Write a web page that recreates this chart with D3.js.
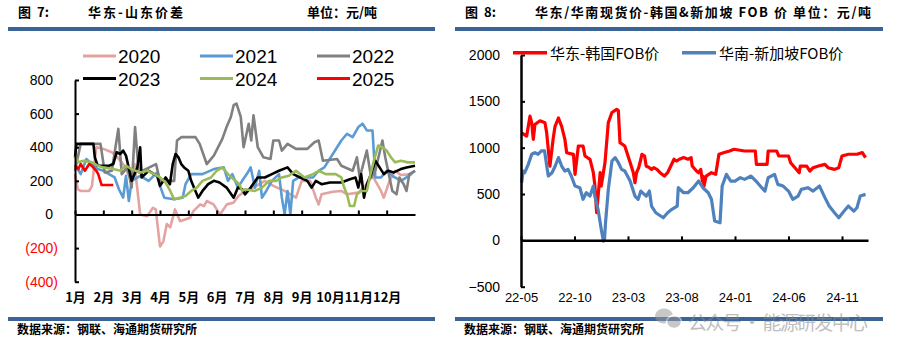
<!DOCTYPE html>
<html>
<head>
<meta charset="utf-8">
<script src="https://cdn.jsdelivr.net/npm/d3@7"></script>
<style>
    body { margin: 0; background: #fff; }
    svg text { font-family: "Liberation Sans", Arial, sans-serif; }
    .cn { font-family: "Noto Sans CJK SC", sans-serif; font-weight: bold; }
</style>
</head>
<body>
<svg id="chart" width="899" height="354"></svg>
<script>
// chart 7: east china - shandong spread, x is month position (1 = start of jan)
var years = ["2020", "2021", "2022", "2023", "2024", "2025"];
var yearColors = ["#e3a3a1", "#5b9bd5", "#808080", "#000000", "#9bbb59", "#ff0000"];
var monthLabels = ["1月","2月","3月","4月","5月","6月","7月","8月","9月","10月","11月","12月"];
var spreadTicks = [-400, -200, 0, 200, 400, 600, 800];

var spread2020 = [[1.0,240],[1.1,150],[1.2,140],[1.5,140],[1.6,170],[1.75,400],[2.0,390],[2.3,370],[2.5,340],[2.7,300],
    [2.95,220],[3.1,300],[3.2,150],[3.3,0],[3.55,-10],[3.75,40],[3.85,30],[4.0,-190],[4.12,-160],[4.24,-57],[4.36,-77],
    [4.53,30],[4.71,-40],[5.06,-20],[5.18,20],[5.42,60],[5.55,50],[5.65,80],[5.89,60],[6.0,30],[6.12,0],[6.36,60],
    [6.59,70],[6.77,110],[7.0,140],[7.3,160],[7.7,200],[8.0,170],[8.4,140],[8.8,100],[9.0,200],[9.3,200],[9.5,100],
    [9.6,60],[9.7,120],[10.1,135],[10.4,140],[10.6,120],[11.0,130],[11.3,180],[11.5,230],[11.8,140],[11.9,100],
    [12.1,200],[12.3,260],[12.5,235],[12.9,240]];
var spread2021 = [[1.0,300],[1.1,270],[1.2,240],[1.4,330],[1.6,300],[1.8,270],[2.0,260],[2.2,240],[2.4,220],[2.55,150],
    [2.7,100],[2.8,230],[2.9,80],[3.0,200],[3.3,230],[3.6,200],[3.9,250],[4.0,170],[4.15,100],[4.5,90],[4.8,100],
    [4.9,180],[5.1,240],[5.5,240],[5.9,270],[6.25,280],[6.4,200],[6.55,240],[6.75,160],[6.9,200],[7.1,250],[7.2,280],
    [7.35,160],[7.5,260],[7.6,100],[7.75,140],[7.95,200],[8.2,240],[8.3,100],[8.4,0],[8.5,140],[8.6,0],[8.7,200],
    [8.9,220],[9.4,220],[9.6,260],[9.8,280],[10.1,360],[10.4,440],[10.6,480],[10.8,460],[11.0,520],[11.15,540],
    [11.3,500],[11.5,500],[11.6,220],[11.8,220],[12.0,260],[12.2,230],[12.5,200],[12.7,220],[13.0,260]];
var spread2022 = [[1.0,260],[1.1,340],[1.2,420],[1.9,420],[2.05,250],[2.3,260],[2.53,510],[2.65,240],[2.85,280],[3.0,160],
    [3.12,520],[3.25,250],[3.5,270],[3.86,300],[4.0,200],[4.5,200],[4.6,440],[4.75,460],[5.25,460],[5.4,420],[5.65,300],
    [5.9,350],[6.2,450],[6.35,520],[6.5,580],[6.6,650],[6.7,660],[6.85,580],[6.95,400],[7.13,540],[7.22,440],[7.3,590],
    [7.45,400],[7.65,340],[7.9,330],[8.0,440],[8.2,440],[8.3,380],[8.5,420],[8.8,390],[9.2,390],[9.45,430],[9.6,440],
    [9.75,320],[10.25,330],[10.4,290],[10.8,260],[10.95,340],[11.05,220],[11.3,380],[11.45,220],[11.6,260],[11.85,440],
    [11.95,340],[12.2,140],[12.35,120],[12.45,220],[12.6,180],[12.7,140],[12.8,240],[13.0,260]];
var spread2023 = [[1.0,340],[1.05,420],[1.65,420],[1.7,340],[1.8,290],[2.2,290],[2.35,300],[2.47,370],[2.6,360],[2.7,380],
    [2.8,350],[3.0,200],[3.1,240],[3.2,280],[3.3,400],[3.35,220],[3.6,260],[3.9,230],[4.0,170],[4.2,220],[4.35,180],
    [4.45,300],[4.55,360],[4.65,340],[4.75,300],[4.85,280],[5.0,260],[5.1,200],[5.25,140],[5.35,100],[5.5,140],[5.7,180],
    [5.9,200],[6.1,190],[6.35,160],[6.6,100],[6.75,160],[6.9,150],[7.0,120],[7.2,160],[7.45,220],[7.7,220],[7.95,240],
    [8.2,260],[8.5,280],[8.7,240],[8.95,220],[9.2,200],[9.35,160],[9.5,200],[9.7,180],[10.0,190],[10.4,190],[10.7,210],
    [10.9,220],[11.0,160],[11.1,240],[11.2,100],[11.3,180],[11.45,240],[11.6,320],[11.75,280],[11.9,240],[12.05,260],
    [12.25,250],[12.5,270],[12.7,280],[13.0,290]];
var spread2024 = [[1.0,350],[1.1,310],[1.3,320],[1.6,310],[1.8,290],[2.0,280],[2.35,270],[2.6,260],[2.8,290],[3.0,270],
    [3.3,250],[3.55,260],[3.8,240],[4.0,220],[4.2,190],[4.36,140],[4.5,90],[4.7,100],[4.9,110],[5.1,140],[5.3,160],
    [5.5,200],[5.8,220],[6.0,260],[6.2,280],[6.4,240],[6.6,210],[6.8,180],[6.9,140],[7.0,150],[7.35,140],[7.6,160],
    [7.85,200],[8.1,200],[8.3,220],[8.55,230],[8.8,260],[9.1,220],[9.4,240],[9.6,260],[9.85,240],[10.2,240],[10.4,220],
    [10.5,160],[10.6,120],[10.7,50],[10.85,50],[10.95,120],[11.1,140],[11.3,140],[11.4,220],[11.55,320],[11.7,410],
    [11.85,400],[12.0,380],[12.15,340],[12.3,310],[12.5,320],[12.75,310],[13.0,310]];
var spread2025 = [[1.0,290],[1.12,270],[1.2,300],[1.35,260],[1.5,300],[1.59,290],[1.75,260],[1.82,240],[1.94,175],[2.35,175]];

// chart 8: spot - fob spread, x is months since 2022-05
var fobNames = ["华东-韩国FOB价", "华南-新加坡FOB价"];
var fobColors = ["#ff0000", "#4f81bd"];
var fobTickMonths = [0, 5, 10, 15, 20, 25, 30];
var fobTickLabels = ["22-05", "22-10", "23-03", "23-08", "24-01", "24-06", "24-11"];
var fobTicks = [-500, 0, 500, 1000, 1500, 2000];

var koreaSpread = [[0.06,1160],[0.53,1125],[0.84,1340],[1.0,1270],[1.15,1090],[1.3,1250],[1.78,1290],[2.24,1270],[2.4,1160],
    [2.7,800],[3.0,1090],[3.18,1230],[3.5,1320],[3.8,1230],[4.1,1090],[4.27,946],[4.9,928],[5.05,712],[5.36,1018],
    [5.8,1018],[5.98,910],[6.45,874],[6.76,730],[6.9,600],[7.07,300],[7.4,730],[7.5,586],[7.85,840],[8.16,1270],
    [8.5,1380],[8.94,1414],[9.1,1400],[9.25,1054],[9.7,1018],[10.2,840],[10.5,730],[10.65,622],[10.8,730],[11.0,784],
    [11.2,875],[11.3,929],[11.55,910],[11.7,802],[12.0,784],[12.2,766],[12.4,784],[12.7,766],[13.0,730],[13.4,694],
    [13.7,730],[14.0,802],[14.3,875],[14.55,856],[14.8,875],[15.2,893],[15.6,875],[15.9,893],[16.0,802],[16.4,748],
    [16.6,730],[16.8,766],[16.95,640],[17.0,694],[17.1,586],[17.3,694],[17.8,730],[18.2,712],[18.5,929],[19.0,947],
    [19.5,965],[19.9,983],[20.9,964],[21.9,964],[22.0,820],[23.0,820],[23.1,964],[23.9,964],[24.1,910],[25.0,910],
    [25.2,838],[25.6,784],[26.0,730],[26.1,802],[26.7,802],[27.0,748],[27.3,784],[27.8,802],[28.4,820],[28.7,784],
    [29.3,766],[29.7,784],[30.0,910],[30.6,929],[31.4,929],[31.9,947],[32.2,893]];
var singaporeSpread = [[0.06,622],[0.2,748],[0.35,730],[0.68,820],[1.0,929],[1.3,947],[1.6,929],[1.9,965],[2.2,965],
    [2.55,694],[2.9,730],[3.2,802],[3.5,893],[3.8,802],[4.1,748],[4.4,766],[4.7,694],[5.05,586],[5.5,568],[5.8,443],
    [6.1,514],[6.45,478],[6.76,586],[6.9,478],[7.2,335],[7.5,119],[7.7,-8],[7.8,5],[7.9,190],[8.16,550],[8.5,856],
    [8.8,893],[9.1,838],[9.4,766],[9.7,748],[10.2,640],[10.65,478],[10.95,443],[11.2,532],[11.7,478],[12.0,532],
    [12.2,370],[12.6,298],[13.3,244],[13.7,298],[14.1,335],[14.6,370],[14.7,568],[15.2,514],[15.6,514],[16.1,568],
    [16.6,640],[17.0,568],[17.5,514],[17.8,443],[18.1,208],[18.6,190],[18.8,586],[19.2,712],[19.6,640],[20.0,640],
    [20.5,676],[20.9,658],[21.5,694],[22.1,622],[22.5,568],[22.8,532],[23.1,676],[23.7,712],[24.0,604],[24.5,586],
    [25.0,532],[25.4,443],[25.9,478],[26.2,550],[26.8,568],[27.3,532],[27.9,586],[28.4,461],[28.8,370],[29.3,298],
    [29.7,244],[30.2,316],[30.6,370],[31.1,316],[31.4,352],[31.7,478],[32.2,496]];

var svg = d3.select("#chart");

window.onload = function() {
    frame(0, 435, "7:", "华东-山东价差", "单位：元/吨");
    frame(455, 883, "8:", "华东/华南现货价-韩国&新加坡 FOB 价 单位：元/吨", "");
    yearChart();
    fobChart();
    watermark();
}

// title, blue bars and source line for one panel
function frame(left, right, num, title, unit) {
    var x0 = left === 0 ? 8 : left;
    svg.append("rect")
        .attr("x", x0).attr("y", 27)
        .attr("width", right - x0).attr("height", 4)
        .attr("fill", "#3b6496");
    svg.append("rect")
        .attr("x", x0).attr("y", 317)
        .attr("width", right - x0).attr("height", 4)
        .attr("fill", "#3b6496");
    // "图" and the number are set apart like in the report
    svg.append("text")
        .attr("class", "cn")
        .attr("x", x0 + 10).attr("y", 17)
        .style("font-size", "13px")
        .text("图");
    svg.append("text")
        .attr("class", "cn")
        .attr("x", x0 + 29).attr("y", 17)
        .style("font-size", "13px")
        .text(num);
    svg.append("text")
        .attr("class", "cn")
        .attr("x", left === 0 ? 88 : 535).attr("y", 17)
        .style("font-size", "13px")
        .attr("textLength", left === 0 ? 95 : 336)
        .text(title);
    if (unit) {
        svg.append("text")
            .attr("class", "cn")
            .attr("x", 307).attr("y", 17)
            .style("font-size", "13px")
            .text(unit);
    }
    svg.append("text")
        .attr("class", "cn")
        .attr("x", x0 + 9).attr("y", 334)
        .style("font-size", "12px")
        .text("数据来源：钢联、海通期货研究所");
}

function yearChart() {
    var series = [spread2020, spread2021, spread2022, spread2023, spread2024, spread2025];

    var x = d3.scaleLinear().domain([1, 13]).range([75, 415]);
    var y = d3.scaleLinear().domain([-400, 800]).range([281.7, 80]);

    var line = d3.line()
        .x(function(d) { return x(d[0]); })
        .y(function(d) { return y(d[1]); });

    var g = svg.append("g");

    // the year lines, later years on top
    g.selectAll(".year")
        .data(series)
        .enter()
        .append("path")
        .attr("d", line)
        .attr("fill", "none")
        .attr("stroke", function(d, i) { return yearColors[i]; })
        .attr("stroke-width", 2.6)
        .attr("stroke-linejoin", "round");

    // y axis, ticks pointing inward
    var yAxis = g.append("g")
        .attr("transform", "translate(75,0)")
        .call(d3.axisLeft(y)
            .tickValues(spreadTicks)
            .tickSize(-4)
            .tickSizeOuter(0)
            .tickPadding(17)
            .tickFormat(function(d) { return d < 0 ? "(" + Math.abs(d) + ")" : d; }));
    yAxis.select(".domain").attr("stroke", "#000").attr("stroke-width", 2);
    yAxis.selectAll(".tick line").attr("stroke-width", 2);
    yAxis.selectAll("text")
        .style("font-size", "14px")
        .attr("fill", function(d) { return d < 0 ? "#ff0000" : "#000"; })
        .attr("dx", function(d) { return d < 0 ? 0 : -5; });

    // x axis on the zero line
    var xAxis = g.append("g")
        .attr("transform", "translate(0," + y(0) + ")")
        .call(d3.axisBottom(x)
            .tickValues(d3.range(1, 13))
            .tickSize(-4)
            .tickSizeOuter(0)
            .tickPadding(78)
            .tickFormat(function(d) { return monthLabels[d - 1]; }));
    xAxis.select(".domain").attr("stroke", "#000").attr("stroke-width", 2);
    xAxis.selectAll(".tick line").attr("stroke-width", 2);
    xAxis.selectAll("text")
        .attr("class", "cn")
        .style("font-size", "13px")
        .attr("fill", "#000");

    // legend in two rows of three
    var legendX = [83, 200, 317];
    var legendY = [56, 78.5];
    var legend = g.selectAll(".legend")
        .data(years)
        .enter()
        .append("g")
        .attr("transform", function(d, i) {
            return "translate(" + legendX[i % 3] + "," + legendY[Math.floor(i / 3)] + ")";
        });
    legend.append("line")
        .attr("x1", 0).attr("x2", 33)
        .attr("stroke", function(d, i) { return yearColors[i]; })
        .attr("stroke-width", 3);
    legend.append("text")
        .attr("x", 35).attr("y", 7)
        .style("font-size", "19px")
        .text(function(d) { return d; });
}

function fobChart() {
    var series = [koreaSpread, singaporeSpread];

    var x = d3.scaleLinear().domain([0, 32.43]).range([521, 868]);
    var y = d3.scaleLinear().domain([-500, 2000]).range([286.7, 55]);

    var line = d3.line()
        .x(function(d) { return x(d[0]); })
        .y(function(d) { return y(d[1]); });

    var g = svg.append("g");

    g.selectAll(".fob")
        .data(series)
        .enter()
        .append("path")
        .attr("d", line)
        .attr("fill", "none")
        .attr("stroke", function(d, i) { return fobColors[i]; })
        .attr("stroke-width", 3.2)
        .attr("stroke-linejoin", "round");

    var yAxis = g.append("g")
        .attr("transform", "translate(521,0)")
        .call(d3.axisLeft(y)
            .tickValues(fobTicks)
            .tickSize(-4)
            .tickSizeOuter(0)
            .tickPadding(21)
            .tickFormat(d3.format("d")));
    yAxis.select(".domain").attr("stroke", "#000").attr("stroke-width", 2.5);
    yAxis.selectAll(".tick line").attr("stroke-width", 2);
    yAxis.selectAll("text")
        .style("font-size", "14px")
        .attr("fill", "#000");

    var xAxis = g.append("g")
        .attr("transform", "translate(0," + y(0) + ")")
        .call(d3.axisBottom(x)
            .tickValues(fobTickMonths)
            .tickSize(-4)
            .tickSizeOuter(0)
            .tickPadding(52)
            .tickFormat(function(d, i) { return fobTickLabels[i]; }));
    xAxis.select(".domain").attr("stroke", "#000").attr("stroke-width", 2.5);
    xAxis.selectAll(".tick line").attr("stroke-width", 2);
    xAxis.selectAll("text")
        .style("font-size", "13px")
        .attr("fill", "#000");

    var legendX = [513, 682];
    var legend = g.selectAll(".legend")
        .data(fobNames)
        .enter()
        .append("g")
        .attr("transform", function(d, i) { return "translate(" + legendX[i] + ",52.7)"; });
    legend.append("line")
        .attr("x1", 0).attr("x2", 34)
        .attr("stroke", function(d, i) { return fobColors[i]; })
        .attr("stroke-width", 3.5);
    legend.append("text")
        .attr("class", "cn")
        .attr("x", 37).attr("y", 6)
        .style("font-size", "15px")
        .style("font-weight", "normal")
        .text(function(d) { return d; });
}

// wechat account mark at the bottom right, kept clear of the source line
function watermark() {
    var w = svg.append("g").attr("opacity", 0.55);
    w.append("ellipse")
        .attr("cx", 664).attr("cy", 316).attr("rx", 9).attr("ry", 7.5)
        .attr("fill", "#9a9a9a");
    w.append("ellipse")
        .attr("cx", 674).attr("cy", 322).attr("rx", 7.5).attr("ry", 6.5)
        .attr("fill", "#9a9a9a").attr("stroke", "#fff").attr("stroke-width", 1.5);
    w.append("text")
        .attr("x", 688).attr("y", 330)
        .style("font-family", "'Noto Sans CJK SC', sans-serif")
        .style("font-size", "19px")
        .attr("fill", "#8c8c8c")
        .attr("textLength", 180)
        .text("公众号 · 能源研发中心");
}
</script>
</body>
</html>
